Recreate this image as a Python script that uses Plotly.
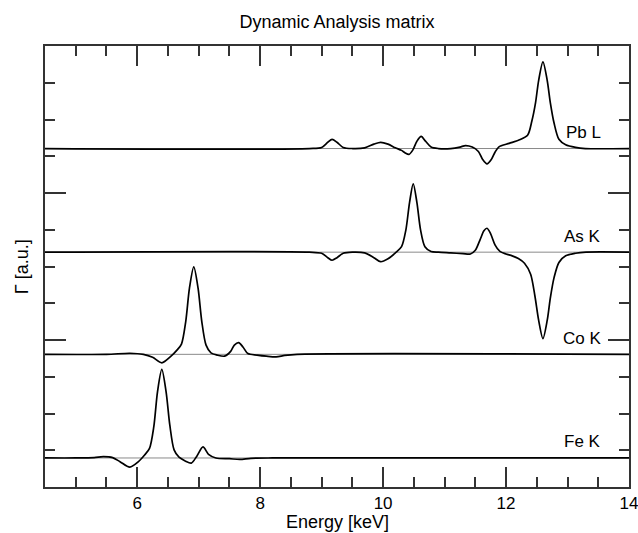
import plotly.graph_objects as go

# ---- data ----
labels = ["Fe K", "Co K", "As K", "Pb L"]
offsets = [0.79, 3.61, 6.39, 9.21]

fe_x = [4.5, 5.0, 5.3, 5.45, 5.6, 5.72, 5.88, 6.02, 6.12, 6.2, 6.27, 6.33, 6.40, 6.47, 6.53, 6.6, 6.68,
        6.78, 6.88, 6.97, 7.07, 7.16, 7.28, 7.5, 7.67, 7.85, 8.2, 14.0]
fe_y = [0, 0, 0.01, 0.035, 0.01, -0.1, -0.25, -0.1, 0.08, 0.26, 0.85, 1.8, 2.41, 1.8, 0.9, 0.22, 0.02,
        -0.08, -0.14, 0.05, 0.3, 0.1, 0, -0.02, -0.04, -0.01, 0, 0]

co_x = [4.5, 5.5, 5.88, 6.1, 6.25, 6.40, 6.55, 6.65, 6.72, 6.79, 6.85, 6.92, 6.99, 7.05, 7.12, 7.2,
        7.3, 7.42, 7.52, 7.58, 7.65, 7.72, 7.8, 7.95, 8.1, 8.26, 8.4, 8.6, 14.0]
co_y = [0, 0, 0.03, 0, -0.08, -0.23, -0.05, 0.12, 0.28, 0.9, 1.8, 2.38, 1.8, 0.9, 0.25, 0.04,
        -0.02, -0.05, 0.08, 0.25, 0.32, 0.2, 0.02, -0.02, -0.05, -0.07, -0.03, 0, 0]

as_x = [4.5, 8.8, 9.0, 9.1, 9.17, 9.25, 9.35, 9.5, 9.7, 9.85, 9.96, 10.08, 10.2, 10.3, 10.37, 10.43,
        10.49, 10.55, 10.61, 10.68, 10.78, 10.9, 11.1, 11.3, 11.42, 11.5, 11.58, 11.64, 11.69, 11.75,
        11.82, 11.9, 12.0, 12.1, 12.2, 12.3, 12.4, 12.47, 12.53, 12.6, 12.67, 12.72, 12.78, 12.86,
        12.97, 13.13, 13.3, 14.0]
as_y = [0, 0, -0.03, -0.15, -0.22, -0.15, -0.03, 0, -0.02, -0.15, -0.26, -0.18, -0.02, 0.15, 0.6, 1.35,
        1.86, 1.35, 0.6, 0.15, 0.02, 0, -0.02, -0.04, -0.05, 0.05, 0.35, 0.58, 0.65, 0.5,
        0.2, 0.02, -0.05, -0.1, -0.17, -0.3, -0.6, -1.2, -1.85, -2.35, -1.85, -1.25, -0.7, -0.28,
        -0.1, -0.03, 0, 0]

pb_x = [4.5, 8.8, 9.0, 9.1, 9.17, 9.25, 9.35, 9.5, 9.7, 9.85, 9.96, 10.08, 10.2, 10.3, 10.36, 10.42,
        10.48, 10.55, 10.62, 10.69, 10.78, 10.9, 11.1, 11.25, 11.34, 11.45, 11.55, 11.62, 11.69, 11.76,
        11.82, 11.88, 12.05, 12.21, 12.35, 12.42, 12.48, 12.53, 12.6, 12.67, 12.72, 12.78, 12.86,
        12.97, 13.13, 13.29, 14.0]
pb_y = [0, 0, 0.03, 0.17, 0.25, 0.17, 0.03, 0, 0.02, 0.12, 0.17, 0.12, 0.02, -0.05, -0.12, -0.16,
        -0.05, 0.2, 0.33, 0.2, 0.04, 0, 0, 0.04, 0.08, 0.04, -0.08, -0.3, -0.42, -0.3,
        -0.1, 0.04, 0.14, 0.23, 0.36, 0.75, 1.25, 1.85, 2.36, 1.85, 1.25, 0.7, 0.25,
        0.1, 0.03, 0, 0]

x_tick_vals = [6, 8, 10, 12, 14]
x_range = [4.5, 14]
y_range = [0, 12]

series = [(fe_x, fe_y), (co_x, co_y), (as_x, as_y), (pb_x, pb_y)]

FONT = "Arial, Liberation Sans, sans-serif"
fig = go.Figure()

for off in offsets:
    fig.add_shape(type="line", xref="paper", x0=0, x1=1, yref="y", y0=off, y1=off,
                  line=dict(color="#8a8a8a", width=1), layer="below")

for (xs, ys), off, lab in zip(series, offsets, labels):
    fig.add_trace(go.Scatter(x=xs, y=[off + v for v in ys], mode="lines",
                             line=dict(color="black", width=1.7, shape="spline", smoothing=0.8),
                             showlegend=False, hoverinfo="skip"))
    fig.add_annotation(x=13.585, y=off + 0.44, text=lab, showarrow=False, xanchor="right",
                       yanchor="middle", font=dict(family=FONT, size=17, color="black"))

# axis titles
fig.add_annotation(xref="paper", yref="paper", x=0.5, y=-0.079, text="Energy [keV]",
                   showarrow=False, xanchor="center", yanchor="middle",
                   font=dict(family=FONT, size=18, color="black"))
fig.add_annotation(xref="paper", yref="paper", x=-0.040, y=0.5, text="Γ [a.u.]", textangle=-90,
                   showarrow=False, xanchor="center", yanchor="middle",
                   font=dict(family=FONT, size=18, color="black"))

axis_common = dict(showline=True, linecolor="#333333", linewidth=1.5, mirror="allticks",
                   ticks="inside", tickcolor="#333333", tickwidth=1.5, showgrid=False,
                   zeroline=False, automargin=False)

fig.update_layout(
    width=638, height=533,
    margin=dict(l=45, r=9, t=46, b=46),
    paper_bgcolor="white", plot_bgcolor="white",
    title=dict(text="Dynamic Analysis matrix", x=0.5, xref="paper", xanchor="center",
               y=1 - 22 / 533, yref="container", yanchor="middle",
               font=dict(family=FONT, size=18, color="black")),
    xaxis=dict(range=x_range, tickvals=x_tick_vals, ticklen=20, ticklabeloverflow="allow",
               minor=dict(dtick=0.5, tick0=0, ticklen=10, ticks="inside", tickcolor="#333333",
                          tickwidth=1.5, showgrid=False),
               tickfont=dict(family=FONT, size=17, color="black"),
               **axis_common),
    yaxis=dict(range=y_range, dtick=4, tick0=0, ticklen=21, showticklabels=False,
               minor=dict(dtick=1, tick0=0, ticklen=10, ticks="inside", tickcolor="#333333",
                          tickwidth=1.5, showgrid=False),
               **axis_common),
)

fig.write_html("out.html", config={"displayModeBar": False},
               post_script="document.body.style.margin='0px';document.body.style.overflow='hidden';")
